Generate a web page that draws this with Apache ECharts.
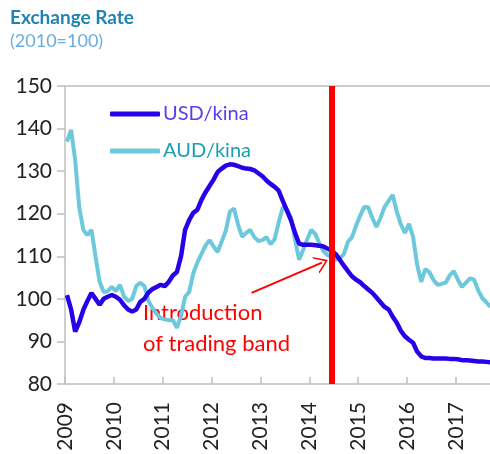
<!DOCTYPE html>
<html>
<head>
<meta charset="utf-8">
<script src="https://cdn.jsdelivr.net/npm/echarts@6/dist/echarts.min.js"></script>
<style>
  html, body { margin: 0; padding: 0; background: #fff; }
  #chart { width: 490px; height: 454px; }
</style>
</head>
<body>
<div id="chart"></div>
<script>
// monthly index values, Jan 2009 .. Sep 2017 (2010=100)
var startYear = 2009
var usdKina = [
  100.9, 97.5, 92.3, 94.5, 97.4, 99.5, 101.4, 100, 98.6, 100, 100.5, 100.9,
  100.5, 99.8, 98.5, 97.5, 97, 97.5, 99.3, 100, 101.5, 102.3, 102.8, 103.3,
  103, 104, 105.5, 106.3, 110, 116.2, 118.5, 120.2, 120.9, 123.2, 125, 126.5,
  128, 129.8, 130.6, 131.3, 131.6, 131.5, 131.2, 130.8, 130.6, 130.5, 130.2, 129.5,
  128.8, 127.8, 127, 126.3, 125.4, 123, 120.8, 118.5, 115.5, 113, 112.7, 112.7,
  112.7, 112.6, 112.5, 112.3, 111.8, 111.3, 110.5, 109.2, 107.8, 106.5, 105.3, 104.5,
  103.9, 103, 102.2, 101.4, 100.3, 99.2, 98.1, 97.5, 95.8, 94.4, 92.5, 91.2,
  90.4, 89.7, 87.6, 86.5, 86.1, 86.1, 86, 86, 86, 86, 85.9, 85.9,
  85.8, 85.6, 85.6, 85.5, 85.4, 85.3, 85.3, 85.2, 85.1
]
var audKina = [
  136.9, 139.7, 132.6, 121.5, 116.2, 115, 116.2, 110, 104, 101.6, 101.8, 102.8,
  101.8, 103.3, 100.5, 99.5, 100, 103, 103.8, 103, 99.5, 97.8, 96.5, 95.5,
  95.2, 95, 95, 93.2, 96, 100.5, 101.6, 106, 108.5, 110.5, 112.5, 113.8,
  112.3, 111, 113.5, 116, 120.5, 121.2, 117.5, 114.6, 115.5, 116.2, 114.5, 113.6,
  113.8, 114.5, 112.8, 114, 118, 121.5, 121, 119.2, 114, 109.2, 111.5, 114,
  116.2, 115.2, 113, 111.2, 110.3, 109.8, 109.2, 109.5, 110.5, 113.4, 114.5, 117.2,
  119.5, 121.6, 121.5, 119, 116.9, 119, 121.6, 123, 124.4, 120.5, 117.5, 115.5,
  117.6, 114.6, 108, 104, 107, 106.3, 104.5, 103.3, 103.5, 103.8, 105.5, 106.5,
  104.5, 102.8, 103.8, 104.8, 104.5, 102, 100.2, 99.2, 98.1
]
var bandDate = 2014.46
var arrowFrom = [2012.82, 101.4]
var arrowTo = [2014.26, 108.5]
var seriesNames = ['USD/kina', 'AUD/kina']

// month mid-points as decimal years
function toPairs(values) {
  return values.map(function (v, i) {
    return [startYear + (i + 0.5) / 12, v]
  })
}

var chart = echarts.init(document.getElementById('chart'))
var font = 'Lato, "Liberation Sans", sans-serif'
var axisGrey = '#bfbfbf'

var option = {
  animation: false,
  textStyle: { fontFamily: font },
  title: {
    text: 'Exchange Rate',
    subtext: '(2010=100)',
    left: 5,
    top: 3,
    itemGap: 5,
    textStyle: { fontFamily: font, fontSize: 19, fontWeight: 'bold', color: '#2183b3' },
    subtextStyle: { fontFamily: font, fontSize: 18, color: '#6aaedb' }
  },
  legend: {
    orient: 'vertical',
    left: 105,
    top: 99,
    itemWidth: 50,
    itemHeight: 5,
    itemGap: 17,
    icon: 'roundRect',
    textStyle: { fontFamily: font, fontSize: 20, padding: [0, 0, 0, -2] },
    data: [
      { name: seriesNames[0], textStyle: { color: '#5a3cf2' } },
      { name: seriesNames[1], textStyle: { color: '#1b9fb0' } }
    ]
  },
  grid: { left: 65, right: 0, top: 86, bottom: 70 },
  xAxis: [{
    type: 'value',
    min: 2009,
    max: 2017.7,
    interval: 1,
    axisLine: { show: true, lineStyle: { color: axisGrey, width: 1.5 } },
    axisTick: { show: true, inside: true, length: 7, lineStyle: { color: axisGrey, width: 1.5 } },
    splitLine: { show: false },
    axisLabel: {
      rotate: 90,
      fontSize: 21,
      color: '#222',
      margin: 18,
      showMaxLabel: false,
      formatter: function (v) { return String(Math.round(v)) }
    }
  }, {
    type: 'value',
    position: 'top',
    min: 2009,
    max: 2017.7,
    axisLine: { show: true, lineStyle: { color: axisGrey, width: 1.5 } },
    axisTick: { show: false },
    axisLabel: { show: false },
    splitLine: { show: false }
  }],
  yAxis: {
    type: 'value',
    min: 80,
    max: 150,
    interval: 10,
    axisLine: { show: true, lineStyle: { color: axisGrey, width: 1.5 } },
    axisTick: { show: true, length: 8, lineStyle: { color: axisGrey, width: 1.5 } },
    splitLine: { show: false },
    axisLabel: { fontSize: 21, color: '#222', margin: 13 }
  },
  graphic: [{
    type: 'text',
    left: 215 - 72,
    top: 297,
    style: {
      text: 'Introduction\nof trading band',
      fill: '#ff0000',
      font: '22px ' + font,
      lineHeight: 31,
      align: 'center',
      width: 144
    }
  }],
  series: [{
    name: seriesNames[0],
    type: 'line',
    data: toPairs(usdKina),
    showSymbol: false,
    symbol: 'none',
    lineStyle: { color: '#2a00e8', width: 4.5 },
    itemStyle: { color: '#2a00e8' },
    z: 3
  }, {
    name: seriesNames[1],
    type: 'line',
    data: toPairs(audKina),
    showSymbol: false,
    symbol: 'none',
    lineStyle: { color: '#6cc9dc', width: 4 },
    itemStyle: { color: '#6cc9dc' },
    z: 2,
    markLine: {
      silent: true,
      animation: false,
      label: { show: false },
      data: [
        [{
          xAxis: bandDate, yAxis: 80,
          symbol: 'none',
          lineStyle: { color: '#ff0000', width: 6, type: 'solid' }
        }, { xAxis: bandDate, yAxis: 150, symbol: 'none' }],
        [{
          coord: arrowFrom,
          symbol: 'none',
          lineStyle: { color: '#ff0000', width: 2, type: 'solid' }
        }, {
          coord: arrowTo,
          symbol: 'path://M10,0 L20,14 L18,14 L10,3 L2,14 L0,14 Z',
          symbolSize: [18, 13],
          symbolOffset: [0, 0]
        }]
      ]
    }
  }]
}

chart.setOption(option)
</script>
</body>
</html>
